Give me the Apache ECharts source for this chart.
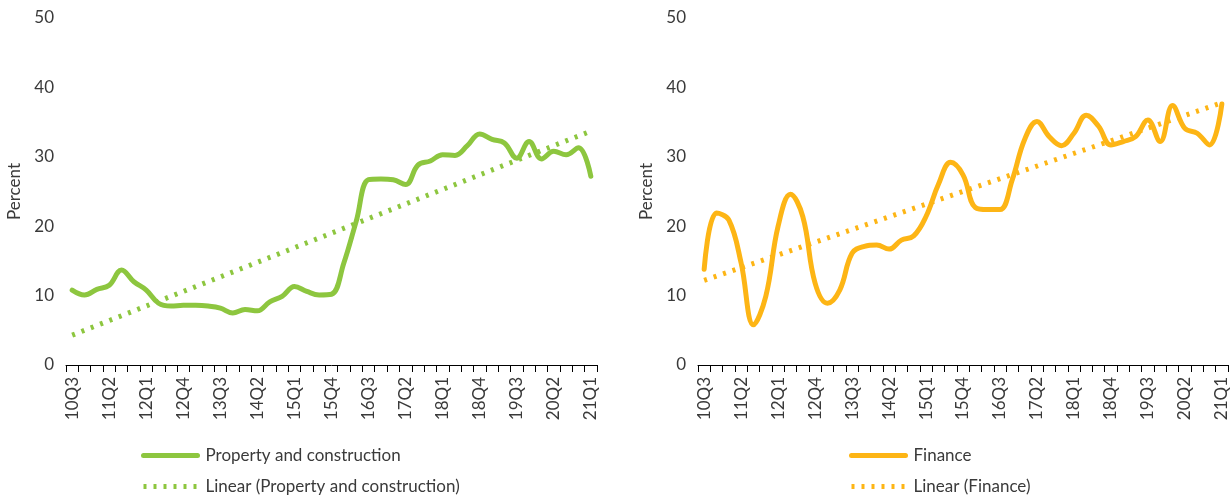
<!DOCTYPE html>
<html>
<head>
<meta charset="utf-8">
<script src="https://cdn.jsdelivr.net/npm/echarts@6/dist/echarts.min.js"></script>
<style>
  html, body { margin: 0; padding: 0; background: #fff; }
  #chart { width: 1231px; height: 502px; }
</style>
</head>
<body>
<div id="chart"></div>
<script>
// quarters 2010Q3 .. 2021Q1
const quarters = [
  '10Q3','10Q4',
  '11Q1','11Q2','11Q3','11Q4',
  '12Q1','12Q2','12Q3','12Q4',
  '13Q1','13Q2','13Q3','13Q4',
  '14Q1','14Q2','14Q3','14Q4',
  '15Q1','15Q2','15Q3','15Q4',
  '16Q1','16Q2','16Q3','16Q4',
  '17Q1','17Q2','17Q3','17Q4',
  '18Q1','18Q2','18Q3','18Q4',
  '19Q1','19Q2','19Q3','19Q4',
  '20Q1','20Q2','20Q3','20Q4',
  '21Q1'
];

const property = [10.8, 10.1, 10.9, 11.5, 13.7, 12.0, 10.8, 8.9, 8.5, 8.6,
  8.6, 8.5, 8.2, 7.5, 8.0, 7.8, 9.1, 9.9, 11.3, 10.6,
  10.1, 10.2, 14.7, 20.7, 26.7, 26.8, 26.7, 26.0, 28.8, 29.4,
  30.3, 30.2, 31.6, 33.3, 32.5, 32.0, 29.8, 32.2, 29.7, 30.8,
  30.3, 31.3, 27.2];

const finance = [13.8, 21.9, 20.9, 14.7, 5.8, 9.9, 20.0, 24.6, 21.4, 11.8,
  8.9, 10.8, 16.1, 17.1, 17.3, 16.7, 18.0, 18.6, 21.4, 26.0,
  29.2, 27.4, 22.7, 22.4, 22.4, 26.7, 32.5, 35.1, 32.9, 31.6,
  33.4, 36.0, 34.4, 31.7, 32.2, 32.9, 35.3, 32.2, 37.4, 34.1,
  33.4, 31.7, 37.6];

// trend line ends (first and last quarter)
const propertyTrend = [4.3, 33.7];
const financeTrend = [12.2, 37.8];

const yTicks = [0, 10, 20, 30, 40, 50];

const GREEN = '#8dc63f';
const YELLOW = '#fdb515';
const FONT = 'Lato';
const TXT = '#3a3a3a';

const last = quarters.length - 1;
function trendData(ends) {
  return [[0, ends[0]], [last, ends[1]]];
}

function xAxis(gridIndex) {
  return {
    type: 'category',
    gridIndex: gridIndex,
    data: quarters,
    boundaryGap: true,
    axisLine: { lineStyle: { color: '#000', width: 1 } },
    axisTick: { show: true, interval: 0, length: 7, lineStyle: { color: '#000' } },
    axisLabel: {
      interval: 2, rotate: 90, margin: 12,
      color: TXT, fontFamily: FONT, fontSize: 17
    }
  };
}

function yAxis(gridIndex) {
  return {
    type: 'value',
    gridIndex: gridIndex,
    min: yTicks[0], max: yTicks[yTicks.length - 1], interval: 10,
    name: 'Percent',
    nameLocation: 'middle',
    nameRotate: 90,
    nameGap: 43,
    nameTextStyle: { color: TXT, fontFamily: FONT, fontSize: 17 },
    axisLine: { show: false },
    axisTick: { show: false },
    splitLine: { show: false },
    axisLabel: { color: TXT, fontFamily: FONT, fontSize: 17, margin: 12 }
  };
}

function legend(left, names) {
  return {
    left: left, top: 442,
    orient: 'vertical',
    itemWidth: 54, itemHeight: 14, itemGap: 14,
    itemStyle: { opacity: 0 },
    lineStyle: { width: 5 },
    textStyle: { color: TXT, fontFamily: FONT, fontSize: 17, padding: [0, 0, 0, 3] },
    data: names
  };
}

const chart = echarts.init(document.getElementById('chart'));
chart.setOption({
  animation: false,
  grid: [
    { left: 66, right: 634, top: 18, bottom: 137 },
    { left: 698, right: 3, top: 18, bottom: 137 }
  ],
  legend: [
    legend(136, ['Property and construction', 'Linear (Property and construction)']),
    legend(844, ['Finance', 'Linear (Finance)'])
  ],
  xAxis: [xAxis(0), xAxis(1)],
  yAxis: [yAxis(0), yAxis(1)],
  series: [
    {
      name: 'Property and construction', type: 'line',
      xAxisIndex: 0, yAxisIndex: 0,
      data: property, smooth: 0.4, symbol: 'none',
      lineStyle: { color: GREEN, width: 5, cap: 'round', join: 'round' },
      itemStyle: { color: GREEN }
    },
    {
      name: 'Linear (Property and construction)', type: 'line',
      xAxisIndex: 0, yAxisIndex: 0,
      data: trendData(propertyTrend), symbol: 'none',
      lineStyle: { color: GREEN, width: 5, type: [3, 7], cap: 'butt' },
      itemStyle: { color: GREEN }
    },
    {
      name: 'Finance', type: 'line',
      xAxisIndex: 1, yAxisIndex: 1,
      data: finance, smooth: 0.4, symbol: 'none',
      lineStyle: { color: YELLOW, width: 5, cap: 'round', join: 'round' },
      itemStyle: { color: YELLOW }
    },
    {
      name: 'Linear (Finance)', type: 'line',
      xAxisIndex: 1, yAxisIndex: 1,
      data: trendData(financeTrend), symbol: 'none',
      lineStyle: { color: YELLOW, width: 5, type: [3, 7], cap: 'butt' },
      itemStyle: { color: YELLOW }
    }
  ]
});
</script>
</body>
</html>
